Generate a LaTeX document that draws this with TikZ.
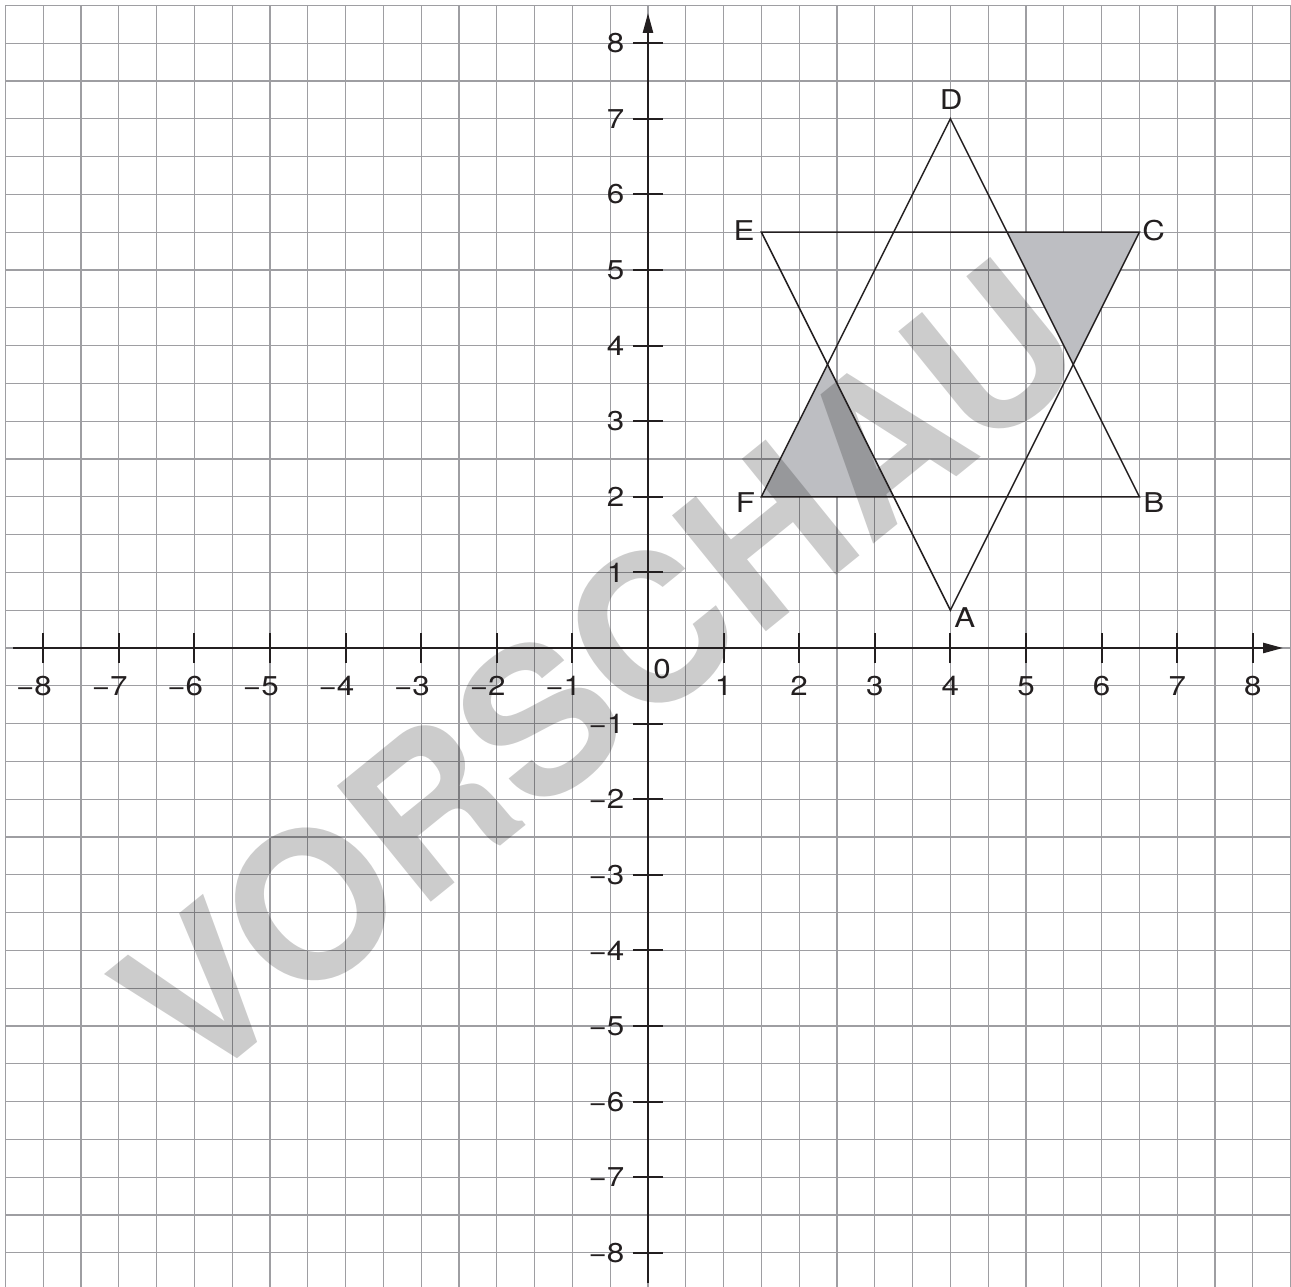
\documentclass[tikz,border=0pt]{standalone}
\usepackage{fontspec}
\setmainfont{TeX Gyre Heros}
\newfontfamily\labfont{TeX Gyre Heros}[FakeStretch=1.15]
\usetikzlibrary{arrows.meta}
\definecolor{gridgray}{RGB}{158,158,162}
\definecolor{axisblack}{RGB}{35,31,32}
\definecolor{shadegray}{RGB}{189,190,194}
\begin{document}
\begin{tikzpicture}[x=2cm,y=2cm,
  gridline/.style={line width=0.9pt, draw=gridgray, line cap=rect},
  axisline/.style={line width=1.8pt, draw=axisblack, -{Triangle[length=15pt,width=7.5pt]}},
  tickline/.style={line width=1.6pt, draw=axisblack},
  figline/.style={line width=1.1pt, draw=axisblack, line join=miter},
  shadedarea/.style={fill=shadegray},
  lab/.style={font=\labfont\fontsize{20.5}{23}\selectfont, inner sep=0pt, text=axisblack},
  wmark/.style={font=\fontsize{154}{160}\selectfont\bfseries, text=black, text opacity=0.2, inner sep=0pt, anchor=base west, rotate=39}
]
\useasboundingbox (-8.571,-8.452) rectangle (8.505,8.571);
\clip (-8.571,-8.452) rectangle (8.505,8.571);
% grid
\foreach \x in {-8.5,-8,...,8.5} \draw[gridline] (\x,-8.7) -- (\x,8.5);
\foreach \y in {-8,-7.5,...,8.5} \draw[gridline] (-8.5,\y) -- (8.7,\y);
% points
\coordinate (A) at (4,0.5);
\coordinate (B) at (6.5,2);
\coordinate (C) at (6.5,5.5);
\coordinate (D) at (4,7);
\coordinate (E) at (1.5,5.5);
\coordinate (F) at (1.5,2);
\coordinate (P1) at (2.375,3.75);
\coordinate (P2) at (3.25,2);
\coordinate (Q1) at (4.75,5.5);
\coordinate (Q2) at (5.625,3.75);
% shaded triangles
\fill[shadedarea] (F) -- (P1) -- (P2) -- cycle;
\fill[shadedarea] (Q1) -- (C) -- (Q2) -- cycle;
% watermark
\node[wmark] (wm) at (-6.0,-5.9) {VORSCHAU};
% axes
\coordinate (xs) at (-8.4,0);
\coordinate (xe) at (8.4,0);
\coordinate (ys) at (0,-8.4);
\coordinate (ye) at (0,8.4);
\draw[axisline] (xs) -- (xe);
\draw[axisline] (ys) -- (ye);
\foreach \i in {-8,...,-1,1,2,...,8} {
  \draw[tickline] (\i,-0.2) -- (\i,0.2);
  \draw[tickline] (-0.2,\i) -- (0.2,\i);
}
\foreach \i in {1,...,8} {
  \node[lab] (xp\i) at (\i,-0.5) {\i};
  \node[lab] (xn\i) at (-\i,-0.5) {\llap{−}\i};
  \node[lab, anchor=east] (yp\i) at (-0.31,\i) {\i};
  \node[lab, anchor=east] (yn\i) at (-0.31,-\i) {−\i};
}
\node[lab] (zero) at (0.185,-0.28) {0};
% triangles
\draw[figline] (A) -- (C) -- (E) -- cycle;
\draw[figline] (D) -- (B) -- (F) -- cycle;
% point labels
\node[lab] (lA) at (4.19,0.40) {A};
\node[lab] (lB) at (6.69,1.92) {B};
\node[lab] (lC) at (6.69,5.52) {C};
\node[lab] (lD) at (4.01,7.26) {D};
\node[lab] (lE) at (1.27,5.52) {E};
\node[lab] (lF) at (1.29,1.93) {F};
\end{tikzpicture}
\end{document}
